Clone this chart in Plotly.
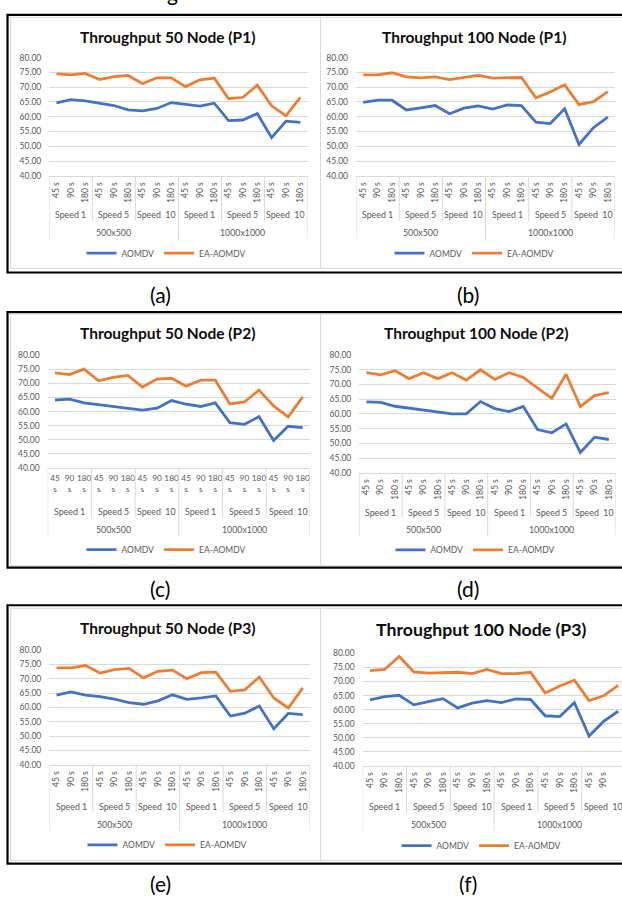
import plotly.graph_objects as go

# ---------------- data ----------------
time_labels = ["45 s", "90 s", "180 s"] * 6
speed_labels = ["Speed 1", "Speed 5", "Speed  10", "Speed 1", "Speed 5", "Speed  10"]
area_labels = ["500x500", "1000x1000"]
series_names = ["AOMDV", "EA-AOMDV"]
titles = ["Throughput 50 Node (P1)", "Throughput 100 Node (P1)",
          "Throughput 50 Node (P2)", "Throughput 100 Node (P2)",
          "Throughput 50 Node (P3)", "Throughput 100 Node (P3)"]
captions = ["(a)", "(b)", "(c)", "(d)", "(e)", "(f)"]

a_aomdv = [64.7, 65.8, 65.4, 64.7, 63.8, 62.3, 62.0, 62.8, 64.8, 64.2, 63.6, 64.6, 58.7, 58.9, 61.1, 52.9, 58.5, 58.1]
a_ea = [74.5, 74.2, 74.7, 72.6, 73.6, 74.0, 71.2, 73.2, 73.2, 70.2, 72.5, 73.1, 66.1, 66.6, 70.7, 63.7, 60.3, 66.6]
b_aomdv = [64.9, 65.6, 65.6, 62.3, 63.0, 63.8, 61.0, 62.9, 63.7, 62.6, 64.0, 63.8, 58.2, 57.7, 62.7, 50.6, 56.3, 59.9]
b_ea = [74.2, 74.2, 74.9, 73.5, 73.2, 73.5, 72.6, 73.3, 74.0, 73.1, 73.1, 73.3, 66.4, 68.4, 70.8, 64.1, 65.1, 68.5]
c_aomdv = [64.1, 64.4, 63.1, 62.5, 61.8, 61.1, 60.5, 61.2, 63.9, 62.6, 61.8, 63.1, 56.1, 55.5, 58.2, 49.8, 54.8, 54.3]
c_ea = [73.7, 73.1, 75.0, 70.9, 72.1, 72.8, 68.7, 71.5, 71.8, 69.0, 71.1, 71.1, 62.7, 63.4, 67.6, 62.0, 58.1, 65.2]
d_aomdv = [64.1, 63.9, 62.6, 61.9, 61.3, 60.7, 60.0, 60.0, 64.2, 61.8, 60.8, 62.5, 54.7, 53.6, 56.6, 46.9, 52.1, 51.3]
d_ea = [74.0, 73.3, 74.7, 72.0, 74.0, 72.0, 74.0, 71.5, 75.0, 71.7, 74.0, 72.4, 68.8, 65.3, 73.5, 62.5, 66.2, 67.2]
e_aomdv = [64.3, 65.4, 64.3, 63.8, 62.9, 61.7, 61.1, 62.3, 64.4, 62.8, 63.3, 64.0, 57.0, 58.0, 60.5, 52.6, 57.9, 57.5]
e_ea = [73.8, 73.8, 74.6, 72.0, 73.2, 73.6, 70.3, 72.6, 73.0, 70.0, 72.1, 72.3, 65.6, 66.1, 70.6, 63.3, 59.8, 66.8]
f_aomdv = [63.5, 64.6, 65.1, 61.7, 62.8, 63.9, 60.6, 62.3, 63.2, 62.5, 63.8, 63.6, 57.8, 57.5, 62.5, 50.6, 55.8, 59.4]
f_ea = [73.9, 74.3, 78.9, 73.4, 73.0, 73.1, 73.3, 72.8, 74.3, 72.8, 72.8, 73.3, 65.9, 68.4, 70.5, 63.2, 64.9, 68.6]

all_series = [(a_aomdv, a_ea), (b_aomdv, b_ea), (c_aomdv, c_ea),
              (d_aomdv, d_ea), (e_aomdv, e_ea), (f_aomdv, f_ea)]

# ---------------- geometry (pixels) ----------------
W, H = 622, 901
def fx(x): return x / W
def fy(y): return 1 - y / H

geo = [
    dict(x0=49.3, x1=307.5, xe=17.5, yt=53.3, yb=172.7, tx=167, ty=32, ts=15.5, sy=212, ay=230, ly=251, lx=166, dsy=218.3, day=236.7, cx=160, cy=293, rot=True),
    dict(x0=356, x1=615, xe=17.5, yt=53.3, yb=172.7, tx=474, ty=32, ts=15.5, sy=212, ay=230, ly=251, lx=474, dsy=218.3, day=236.7, cx=468, cy=293, rot=True),
    dict(x0=47.7, x1=310, xe=17.5, yt=354, yb=468.3, tx=167, ty=331.7, ts=15.5, sy=512, ay=530, ly=550.7, lx=166, dsy=518.3, day=536.7, cx=160, cy=590, rot=False),
    dict(x0=359.3, x1=616, xe=17.5, yt=354, yb=473, tx=475.7, ty=331.7, ts=15.5, sy=512.7, ay=530.7, ly=551, lx=475, dsy=518.3, day=536.7, cx=468, cy=590, rot=True),
    dict(x0=49.3, x1=310, xe=17.5, yt=652.3, yb=768.3, tx=167.3, ty=630, ts=15.5, sy=810, ay=828.7, ly=849.3, lx=167, dsy=816, day=835, cx=160, cy=888, rot=True),
    dict(x0=362.7, x1=622, xe=17.26, yt=655.7, yb=769.3, tx=481.7, ty=631.7, ts=17.7, sy=810, ay=828.7, ly=850, lx=481, dsy=816.7, day=835, cx=468, cy=888, rot=True),
]

BLUE = "#4472C4"
ORANGE = "#ED7D31"
GRID = "#d9d9d9"
TXT = "#595959"
FONT = "Lato"

fig = go.Figure()
layout = dict(width=W, height=H, autosize=False, margin=dict(l=0, r=0, t=0, b=0),
              paper_bgcolor="white", plot_bgcolor="white", showlegend=True,
              font=dict(family=FONT, color=TXT))
annotations = []
shapes = []

# row boxes (black) and chart frames (gray)
rows = [(10, 270.5, 12.5, 266.5), (310.5, 569, 312.7, 566.7), (607, 868.3, 610, 865)]
for (bt, bb, gt, gb) in rows:
    shapes.append(dict(type="rect", xref="paper", yref="paper", x0=fx(7.5), x1=fx(640),
                       y0=fy(bb), y1=fy(bt), line=dict(color="black", width=2.2)))
    shapes.append(dict(type="rect", xref="paper", yref="paper", x0=fx(10.5), x1=fx(320.5),
                       y0=fy(gb), y1=fy(gt), line=dict(color=GRID, width=1)))
    shapes.append(dict(type="rect", xref="paper", yref="paper", x0=fx(320.5), x1=fx(640),
                       y0=fy(gb), y1=fy(gt), line=dict(color=GRID, width=1)))

xs = list(range(len(time_labels)))

for i, (g, (s1, s2)) in enumerate(zip(geo, all_series)):
    n = "" if i == 0 else str(i + 1)
    xr, yr = "x" + n, "y" + n
    lg = "legend" + n
    fig.add_trace(go.Scatter(x=xs, y=s1, mode="lines", name=series_names[0],
                             line=dict(color=BLUE, width=2.8), xaxis=xr, yaxis=yr,
                             legend=lg, hoverinfo="skip"))
    fig.add_trace(go.Scatter(x=xs, y=s2, mode="lines", name=series_names[1],
                             line=dict(color=ORANGE, width=2.8), xaxis=xr, yaxis=yr,
                             legend=lg, hoverinfo="skip"))
    if g["rot"]:
        ttext = time_labels
        tang = -90
        tsize = 8.6
    else:
        ttext = [t.replace(" ", "<br>") for t in time_labels]
        tang = 0
        tsize = 8.3
    layout["xaxis" + n] = dict(domain=[fx(g["x0"]), fx(g["x1"])], anchor=yr,
                               range=[-0.5, g["xe"]], tickvals=xs, ticktext=ttext,
                               tickangle=tang, showgrid=False, zeroline=False,
                               showline=True, linecolor=GRID, linewidth=1, ticks="",
                               tickfont=dict(size=tsize, color=TXT, family=FONT),
                               ticklabelstandoff=2, fixedrange=True)
    layout["yaxis" + n] = dict(domain=[fy(g["yb"]), fy(g["yt"])], anchor=xr,
                               range=[40, 80], dtick=5, tick0=40, tickformat=".2f",
                               showgrid=True, gridcolor=GRID, gridwidth=1,
                               zeroline=False, showline=False, ticks="",
                               tickfont=dict(size=8.5, color=TXT, family=FONT),
                               ticklabelstandoff=7, fixedrange=True)
    layout[lg] = dict(orientation="h", x=fx(g["lx"]), xanchor="center",
                      y=fy(g["ly"]), yanchor="middle", bgcolor="rgba(0,0,0,0)",
                      font=dict(size=8.5, color=TXT, family=FONT), itemwidth=30,
                      tracegroupgap=0)
    # title
    annotations.append(dict(text="<b>" + titles[i] + "</b>", xref="paper", yref="paper",
                            x=fx(g["tx"]), y=fy(g["ty"]), xanchor="center", yanchor="middle",
                            showarrow=False, font=dict(size=g["ts"], color="#0d0d0d", family=FONT)))
    # speed labels
    for k, lab in enumerate(speed_labels):
        annotations.append(dict(text=lab, xref=xr, yref="paper", x=3 * k + 1, y=fy(g["sy"]),
                                xanchor="center", yanchor="middle", showarrow=False,
                                font=dict(size=8.8, color=TXT, family=FONT)))
    # area labels
    for k, lab in enumerate(area_labels):
        annotations.append(dict(text=lab, xref=xr, yref="paper", x=9 * k + 4, y=fy(g["ay"]),
                                xanchor="center", yanchor="middle", showarrow=False,
                                font=dict(size=8.8, color=TXT, family=FONT)))
    # category dividers
    for k in range(7):
        xv = 3 * k - 0.5
        bottom = g["day"] if k in (0, 3, 6) else g["dsy"]
        shapes.append(dict(type="line", xref=xr, yref="paper", x0=xv, x1=xv,
                           y0=fy(bottom), y1=fy(g["yb"]), line=dict(color=GRID, width=1)))
    # caption
    annotations.append(dict(text=captions[i], xref="paper", yref="paper", x=fx(g["cx"]),
                            y=fy(g["cy"]), xanchor="center", yanchor="middle", showarrow=False,
                            font=dict(size=21, color="black", family=FONT)))

# partially visible text at the very top (cropped in the source image)
annotations.append(dict(text="g", xref="paper", yref="paper", x=fx(172), y=fy(2.5),
                        xanchor="center", yanchor="bottom", showarrow=False,
                        font=dict(size=21, color="black", family=FONT)))

layout["annotations"] = annotations
layout["shapes"] = shapes
fig.update_layout(**layout)
fig.write_html("out.html", config=dict(displayModeBar=False),
               post_script="document.body.style.margin='0';document.body.style.overflow='hidden';")
